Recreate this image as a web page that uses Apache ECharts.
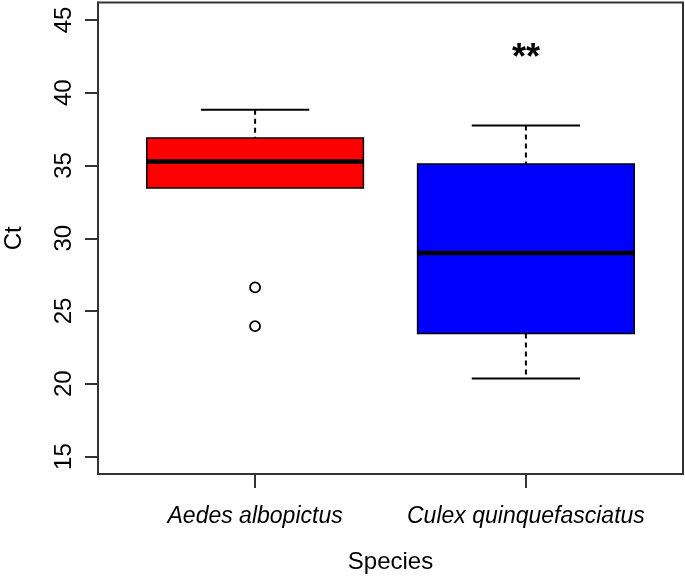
<!DOCTYPE html>
<html>
<head>
<meta charset="utf-8">
<script src="https://cdn.jsdelivr.net/npm/echarts@6/dist/echarts.min.js"></script>
<style>
  html, body { margin: 0; padding: 0; background: #fff; }
  #chart { width: 685px; height: 577px; }
</style>
</head>
<body>
<div id="chart"></div>
<script>
// data
const species = ['Aedes albopictus', 'Culex quinquefasciatus']
const whiskerLow = [33.45, 20.36]
const q1 = [33.45, 23.46]
const median = [35.28, 28.98]
const q3 = [36.89, 35.10]
const whiskerHigh = [38.83, 37.75]
const outlierGroup = [1, 1]
const outlierValues = [26.62, 23.96]
const yTicks = [15, 20, 25, 30, 35, 40, 45]
const xTicks = [1, 2]
const signifPos = [2, 42.3]
const signifText = '**'

const boxColors = ['#ff0000', '#0000ff']
const font = 'Liberation Sans, Arial, sans-serif'

const chart = echarts.init(document.getElementById('chart'), null, { renderer: 'canvas' })

const boxData = species.map((s, i) => [i + 1, whiskerLow[i], q1[i], median[i], q3[i], whiskerHigh[i]])
const outlierData = outlierValues.map((v, i) => [outlierGroup[i], v])

const renderBox = (params, api) => {
  const x = api.value(0)
  const lo = api.coord([x, api.value(1)])
  const b1 = api.coord([x, api.value(2)])
  const md = api.coord([x, api.value(3)])
  const b3 = api.coord([x, api.value(4)])
  const hi = api.coord([x, api.value(5)])
  const boxW = api.size([0.8, 0])[0]
  const capW = api.size([0.4, 0])[0]
  const cx = lo[0]
  const children = []
  const dash = { stroke: '#000', lineWidth: 2, lineDash: [5, 4] }
  const solid = { stroke: '#000', lineWidth: 2 }
  if (hi[1] < b3[1]) {
    children.push({ type: 'line', shape: { x1: cx, y1: hi[1], x2: cx, y2: b3[1] }, style: dash })
    children.push({ type: 'line', shape: { x1: cx - capW / 2, y1: hi[1], x2: cx + capW / 2, y2: hi[1] }, style: solid })
  }
  if (lo[1] > b1[1]) {
    children.push({ type: 'line', shape: { x1: cx, y1: b1[1], x2: cx, y2: lo[1] }, style: dash })
    children.push({ type: 'line', shape: { x1: cx - capW / 2, y1: lo[1], x2: cx + capW / 2, y2: lo[1] }, style: solid })
  }
  children.push({
    type: 'rect',
    shape: { x: cx - boxW / 2, y: b3[1], width: boxW, height: b1[1] - b3[1] },
    style: { fill: boxColors[params.dataIndex], stroke: '#000', lineWidth: 1.5 }
  })
  children.push({
    type: 'line',
    shape: { x1: cx - boxW / 2, y1: md[1], x2: cx + boxW / 2, y2: md[1] },
    style: { stroke: '#000', lineWidth: 4.5 }
  })
  return { type: 'group', children }
}

chart.setOption({
  animation: false,
  backgroundColor: '#fff',
  grid: {
    left: 98,
    right: 2,
    top: 2.5,
    bottom: 103,
    show: true,
    borderColor: '#333',
    borderWidth: 2,
    outerBoundsMode: 'none'
  },
  xAxis: {
    type: 'value',
    min: 0.42,
    max: 2.58,
    name: 'Species',
    nameLocation: 'middle',
    nameGap: 76,
    nameTextStyle: { fontFamily: font, fontSize: 24, color: '#000' },
    splitLine: { show: false },
    axisLine: { lineStyle: { color: '#333', width: 2 } },
    axisTick: { customValues: xTicks, length: 14, lineStyle: { color: '#333', width: 2 } },
    axisLabel: {
      customValues: xTicks,
      margin: 31,
      fontFamily: font,
      fontSize: 23,
      fontStyle: 'italic',
      color: '#000',
      formatter: v => species[Math.round(v) - 1]
    }
  },
  yAxis: {
    type: 'value',
    min: 13.8,
    max: 46.2,
    name: 'Ct',
    nameLocation: 'middle',
    nameGap: 72,
    nameTextStyle: { fontFamily: font, fontSize: 24, color: '#000' },
    splitLine: { show: false },
    axisLine: { show: true, lineStyle: { color: '#333', width: 2 } },
    axisTick: { show: true, customValues: yTicks, length: 13, lineStyle: { color: '#333', width: 2 } },
    axisLabel: {
      customValues: yTicks,
      rotate: 90,
      margin: 22,
      fontFamily: font,
      fontSize: 24,
      color: '#000'
    }
  },
  series: [
    {
      type: 'custom',
      renderItem: renderBox,
      encode: { x: 0, y: [1, 2, 3, 4, 5] },
      data: boxData,
      z: 2
    },
    {
      type: 'scatter',
      symbol: 'circle',
      symbolSize: 10,
      itemStyle: { color: '#fff', borderColor: '#000', borderWidth: 1.8, opacity: 1 },
      data: outlierData,
      z: 3
    },
    {
      type: 'custom',
      renderItem: (params, api) => {
        const p = api.coord([api.value(0), api.value(1)])
        return {
          type: 'text',
          x: p[0],
          y: p[1],
          style: {
            text: signifText,
            fontFamily: font,
            fontSize: 36,
            fontWeight: 'bold',
            fill: '#000',
            align: 'center',
            verticalAlign: 'middle'
          }
        }
      },
      data: [signifPos],
      z: 4
    }
  ]
})

window.addEventListener('resize', () => {
  chart.resize()
})
</script>
</body>
</html>
